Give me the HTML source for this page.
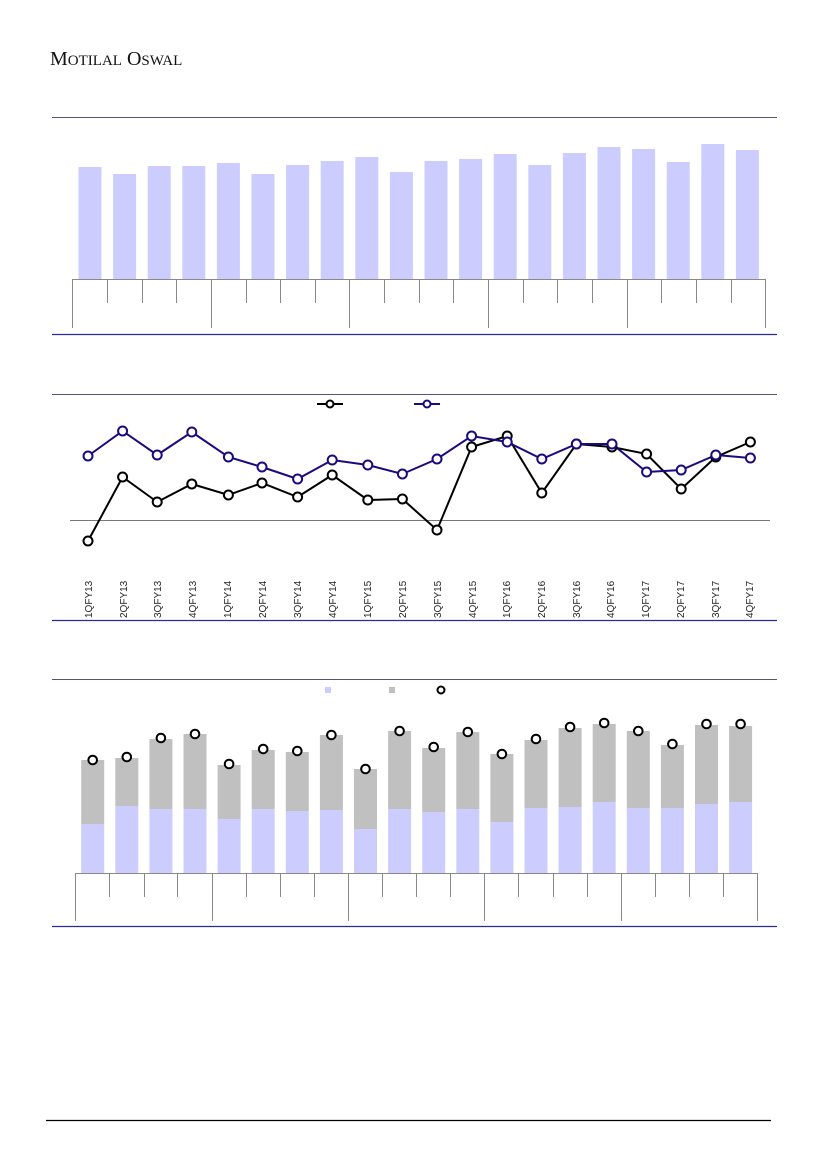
<!DOCTYPE html>
<html><head><meta charset="utf-8"><style>
html,body{margin:0;padding:0;background:#fff;}
svg{display:block;}
</style></head><body>
<svg width="827" height="1169" viewBox="0 0 827 1169" xmlns="http://www.w3.org/2000/svg">
<text x="50" y="65" font-family="Liberation Serif, serif" font-size="20" fill="#111">M<tspan font-size="15">OTILAL</tspan> O<tspan font-size="15">SWAL</tspan></text>

<!-- Chart 1 -->
<line x1="52" y1="117.5" x2="777" y2="117.5" stroke="#555577" stroke-width="1"/>
<g fill="#ccccff">
<rect x="78.5" y="167" width="23" height="112"/>
<rect x="113.1" y="174" width="23" height="105"/>
<rect x="147.7" y="166" width="23" height="113"/>
<rect x="182.3" y="166" width="23" height="113"/>
<rect x="216.9" y="163" width="23" height="116"/>
<rect x="251.5" y="174" width="23" height="105"/>
<rect x="286.1" y="165" width="23" height="114"/>
<rect x="320.7" y="161" width="23" height="118"/>
<rect x="355.3" y="157" width="23" height="122"/>
<rect x="389.9" y="172" width="23" height="107"/>
<rect x="424.5" y="161" width="23" height="118"/>
<rect x="459.1" y="159" width="23" height="120"/>
<rect x="493.7" y="154" width="23" height="125"/>
<rect x="528.3" y="165" width="23" height="114"/>
<rect x="562.9" y="153" width="23" height="126"/>
<rect x="597.5" y="147" width="23" height="132"/>
<rect x="632.1" y="149" width="23" height="130"/>
<rect x="666.7" y="162" width="23" height="117"/>
<rect x="701.3" y="144" width="23" height="135"/>
<rect x="735.9" y="150" width="23" height="129"/>
</g>
<g stroke="#888" stroke-width="1">
<line x1="72" y1="279.5" x2="765" y2="279.5"/>
<line x1="72.5" y1="279" x2="72.5" y2="328"/><line x1="107.5" y1="279" x2="107.5" y2="303"/><line x1="142.5" y1="279" x2="142.5" y2="303"/><line x1="176.5" y1="279" x2="176.5" y2="303"/>
<line x1="211.5" y1="279" x2="211.5" y2="328"/><line x1="246.5" y1="279" x2="246.5" y2="303"/><line x1="280.5" y1="279" x2="280.5" y2="303"/><line x1="315.5" y1="279" x2="315.5" y2="303"/>
<line x1="349.5" y1="279" x2="349.5" y2="328"/><line x1="384.5" y1="279" x2="384.5" y2="303"/><line x1="419.5" y1="279" x2="419.5" y2="303"/><line x1="453.5" y1="279" x2="453.5" y2="303"/>
<line x1="488.5" y1="279" x2="488.5" y2="328"/><line x1="523.5" y1="279" x2="523.5" y2="303"/><line x1="557.5" y1="279" x2="557.5" y2="303"/><line x1="592.5" y1="279" x2="592.5" y2="303"/>
<line x1="627.5" y1="279" x2="627.5" y2="328"/><line x1="661.5" y1="279" x2="661.5" y2="303"/><line x1="696.5" y1="279" x2="696.5" y2="303"/><line x1="731.5" y1="279" x2="731.5" y2="303"/>
<line x1="765.5" y1="279" x2="765.5" y2="328"/>
</g>
<line x1="52" y1="334.5" x2="777" y2="334.5" stroke="#2a2a99" stroke-width="1.3"/>

<!-- Chart 2 -->
<line x1="52" y1="394.5" x2="777" y2="394.5" stroke="#555577" stroke-width="1"/>
<line x1="70" y1="520.5" x2="770" y2="520.5" stroke="#777" stroke-width="1"/>
<line x1="317" y1="404" x2="343" y2="404" stroke="#000" stroke-width="2"/>
<circle cx="330" cy="404" r="3.5" fill="#fff" stroke="#000" stroke-width="2"/>
<line x1="414" y1="404" x2="440" y2="404" stroke="#1a0a80" stroke-width="2"/>
<circle cx="427" cy="404" r="3.5" fill="#fff" stroke="#1a0a80" stroke-width="2"/>
<polyline fill="none" stroke="#000" stroke-width="2" points="88,541 122.6,477 157.2,502 191.8,484 228.4,495 262,483 297.6,497 332.2,475 367.8,500 402.4,499 437,530 471.6,447 507.2,436 541.8,493 576.4,444 612,447 646.6,454 681.2,489 715.8,457 750.4,442"/>
<polyline fill="none" stroke="#1a0a80" stroke-width="2" points="88,456 122.6,431 157.2,455 191.8,432 228.4,457 262,467 297.6,479 332.2,460 367.8,465 402.4,474 437,459 471.6,436 507.2,442 541.8,459 576.4,444 612,444 646.6,472 681.2,470 715.8,455 750.4,458"/>
<g fill="#fff" stroke="#000" stroke-width="2">
<circle cx="88" cy="541" r="4.5"/><circle cx="122.6" cy="477" r="4.5"/><circle cx="157.2" cy="502" r="4.5"/><circle cx="191.8" cy="484" r="4.5"/><circle cx="228.4" cy="495" r="4.5"/><circle cx="262" cy="483" r="4.5"/><circle cx="297.6" cy="497" r="4.5"/><circle cx="332.2" cy="475" r="4.5"/><circle cx="367.8" cy="500" r="4.5"/><circle cx="402.4" cy="499" r="4.5"/><circle cx="437" cy="530" r="4.5"/><circle cx="471.6" cy="447" r="4.5"/><circle cx="507.2" cy="436" r="4.5"/><circle cx="541.8" cy="493" r="4.5"/><circle cx="576.4" cy="444" r="4.5"/><circle cx="612" cy="447" r="4.5"/><circle cx="646.6" cy="454" r="4.5"/><circle cx="681.2" cy="489" r="4.5"/><circle cx="715.8" cy="457" r="4.5"/><circle cx="750.4" cy="442" r="4.5"/>
</g>
<g fill="#fff" stroke="#1a0a80" stroke-width="2">
<circle cx="88" cy="456" r="4.5"/><circle cx="122.6" cy="431" r="4.5"/><circle cx="157.2" cy="455" r="4.5"/><circle cx="191.8" cy="432" r="4.5"/><circle cx="228.4" cy="457" r="4.5"/><circle cx="262" cy="467" r="4.5"/><circle cx="297.6" cy="479" r="4.5"/><circle cx="332.2" cy="460" r="4.5"/><circle cx="367.8" cy="465" r="4.5"/><circle cx="402.4" cy="474" r="4.5"/><circle cx="437" cy="459" r="4.5"/><circle cx="471.6" cy="436" r="4.5"/><circle cx="507.2" cy="442" r="4.5"/><circle cx="541.8" cy="459" r="4.5"/><circle cx="576.4" cy="444" r="4.5"/><circle cx="612" cy="444" r="4.5"/><circle cx="646.6" cy="472" r="4.5"/><circle cx="681.2" cy="470" r="4.5"/><circle cx="715.8" cy="455" r="4.5"/><circle cx="750.4" cy="458" r="4.5"/>
</g>
<g font-family="Liberation Sans, sans-serif" font-size="10" fill="#222">
<text transform="translate(92,618) rotate(-90)">1QFY13</text>
<text transform="translate(127,618) rotate(-90)">2QFY13</text>
<text transform="translate(161,618) rotate(-90)">3QFY13</text>
<text transform="translate(196,618) rotate(-90)">4QFY13</text>
<text transform="translate(231,618) rotate(-90)">1QFY14</text>
<text transform="translate(266,618) rotate(-90)">2QFY14</text>
<text transform="translate(301,618) rotate(-90)">3QFY14</text>
<text transform="translate(336,618) rotate(-90)">4QFY14</text>
<text transform="translate(371,618) rotate(-90)">1QFY15</text>
<text transform="translate(406,618) rotate(-90)">2QFY15</text>
<text transform="translate(441,618) rotate(-90)">3QFY15</text>
<text transform="translate(476,618) rotate(-90)">4QFY15</text>
<text transform="translate(510,618) rotate(-90)">1QFY16</text>
<text transform="translate(545,618) rotate(-90)">2QFY16</text>
<text transform="translate(580,618) rotate(-90)">3QFY16</text>
<text transform="translate(614,618) rotate(-90)">4QFY16</text>
<text transform="translate(649,618) rotate(-90)">1QFY17</text>
<text transform="translate(684,618) rotate(-90)">2QFY17</text>
<text transform="translate(719,618) rotate(-90)">3QFY17</text>
<text transform="translate(753,618) rotate(-90)">4QFY17</text>
</g>
<line x1="52" y1="620.5" x2="777" y2="620.5" stroke="#2a2a99" stroke-width="1.3"/>

<!-- Chart 3 -->
<line x1="52" y1="679.5" x2="777" y2="679.5" stroke="#555577" stroke-width="1"/>
<rect x="325" y="687" width="6" height="6" fill="#ccccff"/>
<rect x="389" y="687" width="6" height="6" fill="#c0c0c0"/>
<circle cx="441" cy="690" r="3.5" fill="#fff" stroke="#000" stroke-width="2"/>
<g fill="#c0c0c0">
<rect x="81.2" y="760" width="23" height="64"/>
<rect x="115.3" y="758" width="23" height="48"/>
<rect x="149.4" y="739" width="23" height="70"/>
<rect x="183.5" y="734" width="23" height="75"/>
<rect x="217.6" y="765" width="23" height="54"/>
<rect x="251.7" y="750" width="23" height="59"/>
<rect x="285.8" y="752" width="23" height="59"/>
<rect x="319.9" y="735" width="23" height="75"/>
<rect x="354" y="769" width="23" height="60"/>
<rect x="388.1" y="731" width="23" height="78"/>
<rect x="422.2" y="748" width="23" height="64"/>
<rect x="456.3" y="732" width="23" height="77"/>
<rect x="490.4" y="754" width="23" height="68"/>
<rect x="524.5" y="740" width="23" height="68"/>
<rect x="558.6" y="728" width="23" height="79"/>
<rect x="592.7" y="724" width="23" height="78"/>
<rect x="626.8" y="731" width="23" height="77"/>
<rect x="660.9" y="745" width="23" height="63"/>
<rect x="695" y="725" width="23" height="79"/>
<rect x="729.1" y="726" width="23" height="76"/>
</g>
<g fill="#ccccff">
<rect x="81.2" y="824" width="23" height="49"/>
<rect x="115.3" y="806" width="23" height="67"/>
<rect x="149.4" y="809" width="23" height="64"/>
<rect x="183.5" y="809" width="23" height="64"/>
<rect x="217.6" y="819" width="23" height="54"/>
<rect x="251.7" y="809" width="23" height="64"/>
<rect x="285.8" y="811" width="23" height="62"/>
<rect x="319.9" y="810" width="23" height="63"/>
<rect x="354" y="829" width="23" height="44"/>
<rect x="388.1" y="809" width="23" height="64"/>
<rect x="422.2" y="812" width="23" height="61"/>
<rect x="456.3" y="809" width="23" height="64"/>
<rect x="490.4" y="822" width="23" height="51"/>
<rect x="524.5" y="808" width="23" height="65"/>
<rect x="558.6" y="807" width="23" height="66"/>
<rect x="592.7" y="802" width="23" height="71"/>
<rect x="626.8" y="808" width="23" height="65"/>
<rect x="660.9" y="808" width="23" height="65"/>
<rect x="695" y="804" width="23" height="69"/>
<rect x="729.1" y="802" width="23" height="71"/>
</g>
<g fill="#fff" stroke="#000" stroke-width="2">
<circle cx="92.7" cy="760" r="4.3"/><circle cx="126.8" cy="757" r="4.3"/><circle cx="160.9" cy="738" r="4.3"/><circle cx="195" cy="734" r="4.3"/><circle cx="229.1" cy="764" r="4.3"/><circle cx="263.2" cy="749" r="4.3"/><circle cx="297.3" cy="751" r="4.3"/><circle cx="331.4" cy="735" r="4.3"/><circle cx="365.5" cy="769" r="4.3"/><circle cx="399.6" cy="731" r="4.3"/><circle cx="433.7" cy="747" r="4.3"/><circle cx="467.8" cy="732" r="4.3"/><circle cx="501.9" cy="754" r="4.3"/><circle cx="536" cy="739" r="4.3"/><circle cx="570.1" cy="727" r="4.3"/><circle cx="604.2" cy="723" r="4.3"/><circle cx="638.3" cy="731" r="4.3"/><circle cx="672.4" cy="744" r="4.3"/><circle cx="706.5" cy="724" r="4.3"/><circle cx="740.6" cy="724" r="4.3"/>
</g>
<g stroke="#888" stroke-width="1">
<line x1="75" y1="873.5" x2="757" y2="873.5"/>
<line x1="75.5" y1="873" x2="75.5" y2="921"/><line x1="109.5" y1="873" x2="109.5" y2="897"/><line x1="144.5" y1="873" x2="144.5" y2="897"/><line x1="177.5" y1="873" x2="177.5" y2="897"/>
<line x1="212.5" y1="873" x2="212.5" y2="921"/><line x1="246.5" y1="873" x2="246.5" y2="897"/><line x1="280.5" y1="873" x2="280.5" y2="897"/><line x1="314.5" y1="873" x2="314.5" y2="897"/>
<line x1="348.5" y1="873" x2="348.5" y2="921"/><line x1="382.5" y1="873" x2="382.5" y2="897"/><line x1="416.5" y1="873" x2="416.5" y2="897"/><line x1="450.5" y1="873" x2="450.5" y2="897"/>
<line x1="484.5" y1="873" x2="484.5" y2="921"/><line x1="518.5" y1="873" x2="518.5" y2="897"/><line x1="553.5" y1="873" x2="553.5" y2="897"/><line x1="587.5" y1="873" x2="587.5" y2="897"/>
<line x1="621.5" y1="873" x2="621.5" y2="921"/><line x1="655.5" y1="873" x2="655.5" y2="897"/><line x1="689.5" y1="873" x2="689.5" y2="897"/><line x1="723.5" y1="873" x2="723.5" y2="897"/>
<line x1="757.5" y1="873" x2="757.5" y2="921"/>
</g>
<line x1="52" y1="926.5" x2="777" y2="926.5" stroke="#2a2a99" stroke-width="1.3"/>

<line x1="46" y1="1120.5" x2="771" y2="1120.5" stroke="#000" stroke-width="1.2"/>
</svg>
</body></html>
